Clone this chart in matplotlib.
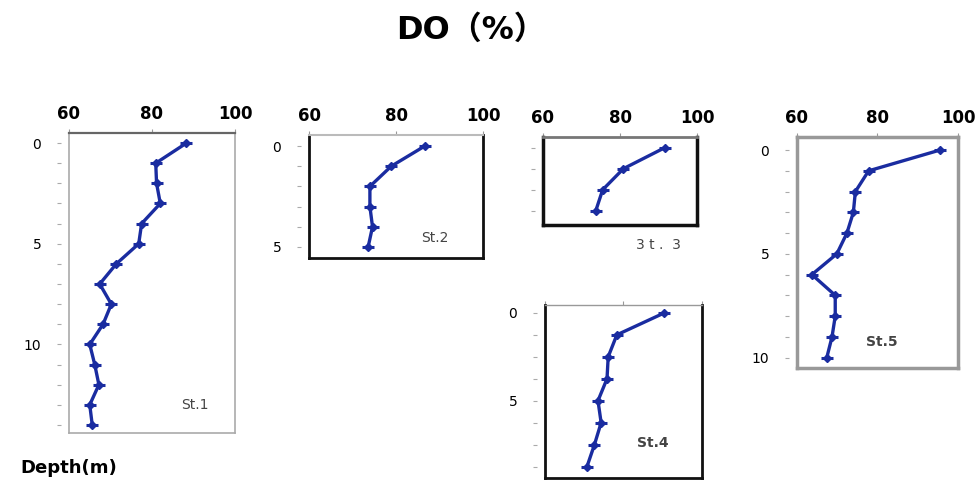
import matplotlib
matplotlib.use("Agg")
import matplotlib.pyplot as plt

# --- data (DO %, depth in m) ---
depth_st1 = [0, 1, 2, 3, 4, 5, 6, 7, 8, 9, 10, 11, 12, 13, 14]
do_st1 = [88.3, 80.9, 81.1, 82.0, 77.5, 76.8, 71.4, 67.4, 70.2, 68.2, 65.0, 66.2, 67.2, 65.0, 65.6]

depth_st2 = [0, 1, 2, 3, 4, 5]
do_st2 = [86.6, 78.9, 74.0, 74.0, 74.6, 73.6]

depth_st3 = [0, 1, 2, 3]
do_st3 = [91.7, 80.9, 75.5, 73.7]

depth_st4 = [0, 1.25, 2.5, 3.75, 5, 6.25, 7.5, 8.75]
do_st4 = [90.4, 78.3, 76.1, 75.8, 73.5, 74.3, 72.6, 70.7]

depth_st5 = [0, 1, 2, 3, 4, 5, 6, 7, 8, 9, 10]
do_st5 = [95.5, 77.8, 74.5, 74.0, 72.4, 69.9, 63.7, 69.5, 69.5, 68.7, 67.4]

x_ticks = [60, 80, 100]
LINE = '#1a2ca0'

fig = plt.figure(figsize=(9.78, 4.86), dpi=100)
W, H = 978.0, 486.0


def make_axes(x0, y_top, x1, y_bot):
    return fig.add_axes([x0 / W, 1 - y_bot / H, (x1 - x0) / W, (y_bot - y_top) / H])


def panel(ax, depth, do, ylim, ylabels, top_c, top_lw, side_c, side_lw, show_x=True):
    ax.plot(do, depth, color=LINE, lw=2.4, zorder=3, clip_on=False)
    ax.plot(do, depth, ls='none', marker='D', ms=4.5, color=LINE, zorder=4, clip_on=False)
    ax.plot(do, depth, ls='none', marker='_', ms=9, mew=2.2, color=LINE, zorder=4, clip_on=False)
    ax.set_xlim(60, 100)
    ax.set_ylim(ylim[1], ylim[0])

    # x axis on top
    ax.xaxis.tick_top()
    ax.set_xticks(x_ticks)
    ax.tick_params(axis='x', length=3, width=0.8, color='#999999', pad=4)
    if show_x:
        ax.set_xticklabels([str(v) for v in x_ticks], fontsize=12, fontweight='bold')
    else:
        ax.set_xticklabels([])

    # y ticks detached to the left of the frame
    ax.set_yticks(depth)
    ax.set_yticklabels([str(int(d)) if d in ylabels else '' for d in depth],
                       fontsize=11, color='#333333')
    ax.spines['left'].set_position(('outward', 6))
    ax.spines['left'].set_visible(False)
    ax.tick_params(axis='y', length=3, width=0.8, color='#aaaaaa', pad=11)

    ax.spines['top'].set_color(top_c)
    ax.spines['top'].set_linewidth(top_lw)
    for s in ('right', 'bottom'):
        ax.spines[s].set_color(side_c)
        ax.spines[s].set_linewidth(side_lw)
    ax.plot([0, 0], [0, 1], transform=ax.transAxes, color=side_c, lw=side_lw,
            clip_on=False, solid_capstyle='projecting', zorder=2)


ax1 = make_axes(69, 133, 235, 433)
panel(ax1, depth_st1, do_st1, (-0.5, 14.4), [0, 5, 10], '#666666', 1.6, '#aaaaaa', 1.2)

ax2 = make_axes(309, 135, 483, 258)
panel(ax2, depth_st2, do_st2, (-0.55, 5.55), [0, 5], '#bbbbbb', 1.5, '#111111', 2.0)

ax3 = make_axes(543, 137, 697, 225)
panel(ax3, depth_st3, do_st3, (-0.5, 3.67), [], '#777777', 2.0, '#111111', 2.5)

ax4 = make_axes(545, 305, 702, 478)
panel(ax4, depth_st4, do_st4, (-0.45, 9.4), [0, 5], '#999999', 1.0, '#111111', 2.0, show_x=False)

ax5 = make_axes(797, 137, 958, 368)
panel(ax5, depth_st5, do_st5, (-0.63, 10.5), [0, 5, 10], '#999999', 2.5, '#999999', 2.5)

# station labels (pixel positions measured from the top-left)
for label, (px, py) in [('St.1', (195, 405)), ('St.2', (435, 238)), ('3 t .  3', (658, 245)),
                        ('St.4', (653, 443)), ('St.5', (882, 342))]:
    fig.text(px / W, 1 - py / H, label, fontsize=10, color='#444444', ha='center', va='center',
             fontweight='bold' if label in ('St.4', 'St.5') else 'normal')

fig.text(471 / W, 1 - 30 / H, 'DO（%）', fontsize=23, fontweight='bold', ha='center', va='center',
         family=['DejaVu Sans', 'Noto Sans CJK JP'])
fig.text(20 / W, 1 - 468 / H, 'Depth(m)', fontsize=13, fontweight='bold', ha='left', va='center')

fig.savefig('out.png', dpi=100)
